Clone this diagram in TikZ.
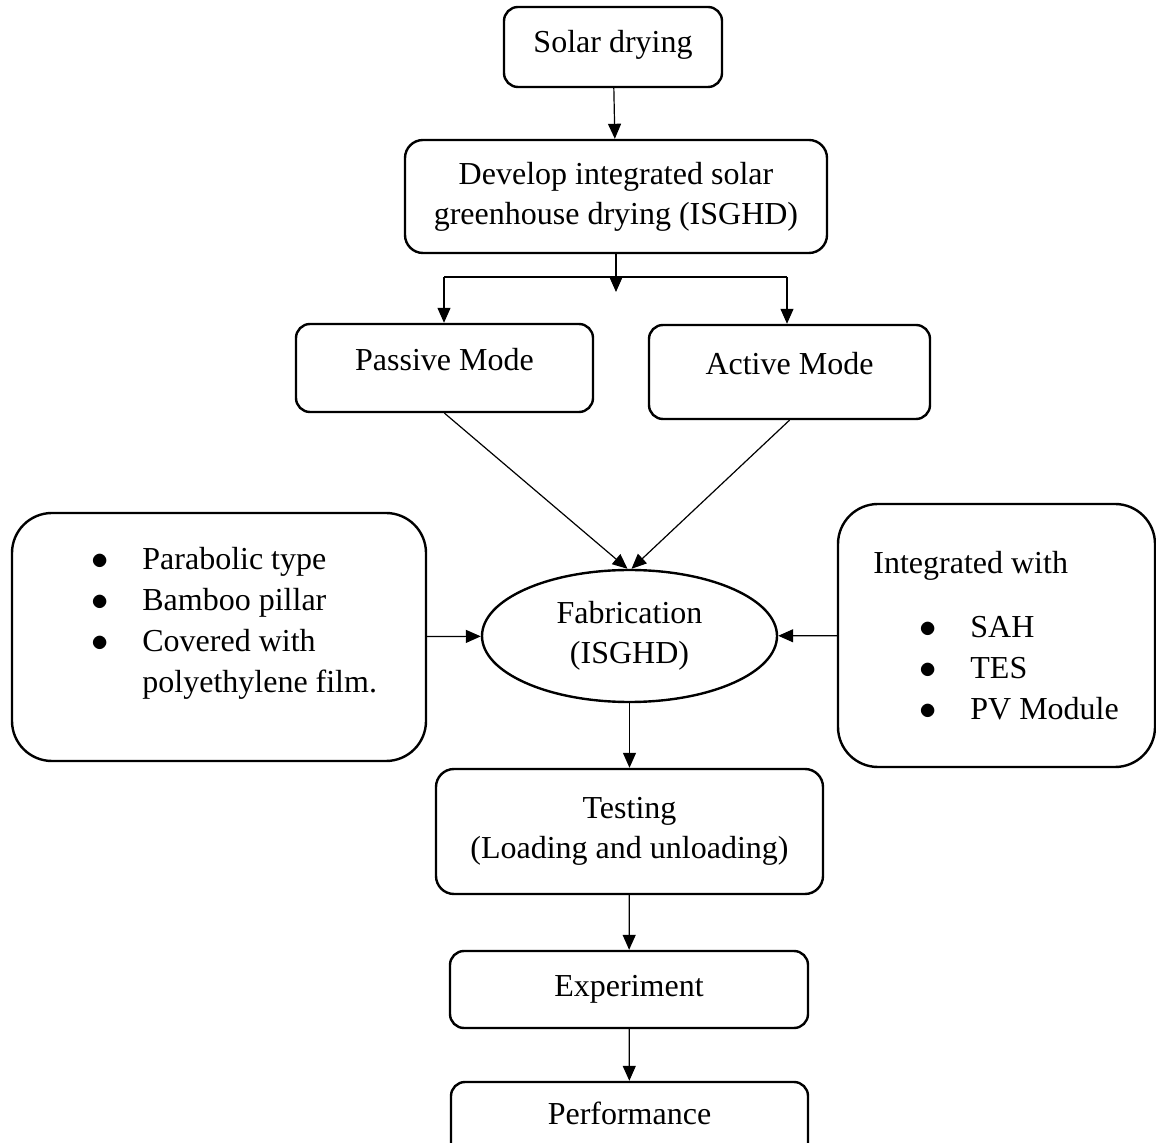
\documentclass[tikz,border=0pt]{standalone}
\usepackage{fontspec}
\setmainfont{Liberation Serif}
\usetikzlibrary{shapes.geometric,arrows.meta}

\tikzset{
  stage/.style={rectangle, rounded corners=7pt, draw=black, line width=1.2pt, align=center, inner sep=0pt},
  listbox/.style={rectangle, rounded corners=20pt, draw=black, line width=1.2pt, inner sep=0pt},
  listtext/.style={align=left, inner sep=0pt, anchor=north west, font=\fontsize{16}{20.5}\selectfont},
  flow/.style={line width=0.6pt, -{Triangle[length=7.5pt,width=6.5pt]}}
}
\newcommand{\itembullet}{\makebox[8pt][c]{$\bullet$}\hspace{17pt}}

\begin{document}
\begin{tikzpicture}
[x=0.5pt, y=-0.5pt, every node/.style={font=\fontsize{16}{20}\selectfont}]
\useasboundingbox (0,0) rectangle (1156,1143);
\node (solar) [stage, minimum width=109pt, minimum height=40pt, text depth=5.4pt] at (613,47) {Solar drying};
\node (develop) [stage, rounded corners=9pt, minimum width=211pt, minimum height=56.5pt] at (616,196.5) {Develop integrated solar\\greenhouse drying (ISGHD)};
\node (passive) [stage, minimum width=148.5pt, minimum height=44pt, text height=11pt, text depth=8.4pt] at (444.5,368) {Passive Mode};
\node (active) [stage, minimum width=140.5pt, minimum height=47pt, text height=11pt, text depth=8.4pt] at (789.5,372) {Active Mode};
\node (fab) [ellipse, draw=black, line width=1.2pt, minimum width=147.5pt, minimum height=66pt, inner sep=0pt, align=center] at (629.5,636) {Fabrication\\(ISGHD)};
\node (params) [listbox, minimum width=207pt, minimum height=124pt] at (219,637) {};
\node (paramlist) [listtext] at (92,547) {\itembullet Parabolic type\\ \itembullet Bamboo pillar\\ \itembullet Covered with\\ \hspace*{25pt}polyethylene film.};
\node (integ) [listbox, minimum width=158.5pt, minimum height=131.5pt] at (996.5,635.5) {};
\node (integlist) [listtext] at (873,551) {Integrated with\\[11.5pt] \hspace*{23.5pt}\itembullet SAH\\ \hspace*{23.5pt}\itembullet TES\\ \hspace*{23.5pt}\itembullet PV Module};
\node (testing) [stage, rounded corners=9pt, minimum width=193.5pt, minimum height=62.5pt] at (629.5,831.5) {Testing\\(Loading and unloading)};
\node (experiment) [stage, minimum width=179pt, minimum height=38.5pt] at (629,989.5) {Experiment};
\node (performance) [stage, minimum width=178.5pt, minimum height=44pt, text height=11pt, text depth=12.3pt] at (629.5,1126) {Performance};
\coordinate (split) at (616,292);
\coordinate (bl) at (444,277);
\coordinate (br) at (787,277);
% arrows
\draw [flow] (solar) -- (develop);
\draw [flow] (develop.south) -- (split);
\draw [line width=0.6pt] (bl) -- (br);
\draw [flow] (bl) -- (bl |- passive.north);
\draw [flow] (br) -- (br |- active.north);
\draw [flow] (passive.south) -- ([xshift=-1pt]fab.north);
\draw [flow] (active.south) -- ([xshift=1pt]fab.north);
\draw [flow] (params) -- (fab);
\draw [flow] (integ) -- (fab);
\draw [flow] (fab) -- (testing);
\draw [flow] (testing) -- (experiment);
\draw [flow] (experiment) -- (performance);
\end{tikzpicture}
\end{document}
